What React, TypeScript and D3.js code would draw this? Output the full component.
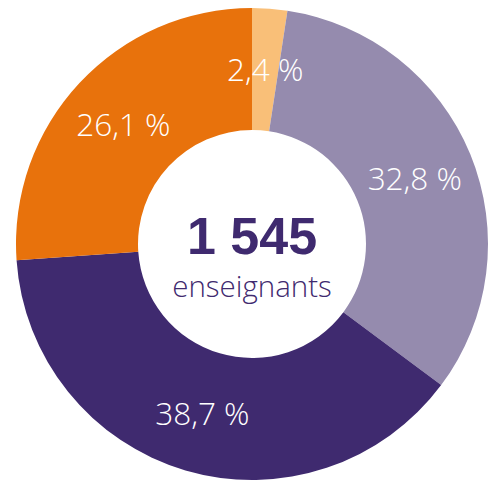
import React from "react";
import * as d3 from "d3";

const categories = ["A", "B", "C", "D"];
const values = [2.4, 32.8, 38.7, 26.1];
const labels = ["2,4 %", "32,8 %", "38,7 %", "26,1 %"];
const colors = ["#F9BF78", "#958BAE", "#3F2A6F", "#E8720C"];
const totalLabel = "1 545";
const subLabel = "enseignants";

export default function App() {
  const W = 494, H = 481;
  const cx = 252, cy = 244;
  const outerR = 236, innerR = 114, labelR = 176;
  const pie = d3.pie<number>().sort(null).value((d) => d);
  const arcs = pie(values);
  const arc = d3.arc<d3.PieArcDatum<number>>().innerRadius(innerR).outerRadius(outerR);
  const labelArc = d3.arc<d3.PieArcDatum<number>>().innerRadius(labelR).outerRadius(labelR);
  return (
    <svg width={W} height={H} style={{ position: "absolute", left: 0, top: 0 }}>
      <g transform={`translate(${cx},${cy})`}>
        {arcs.map((a, i) => (
          <path key={categories[i]} d={arc(a) || ""} fill={colors[i]} />
        ))}
        {arcs.map((a, i) => {
          const [x, y] = labelArc.centroid(a);
          return (
            <text key={"l" + i} x={x} y={y} textAnchor="middle" dominantBaseline="central"
              fill="#fff" fontFamily="'Open Sans', 'Liberation Sans', sans-serif" fontWeight={300} fontSize={31.5}>
              {labels[i]}
            </text>
          );
        })}
        <text x={0} y={10} textAnchor="middle" fill="#3F2A6F"
          fontFamily="'Liberation Sans', Arial, sans-serif" fontWeight={700} fontSize={52}>
          {totalLabel}
        </text>
        <text x={0} y={53} textAnchor="middle" fill="#3F2A6F"
          fontFamily="'Open Sans', 'Liberation Sans', sans-serif" fontWeight={300} fontSize={29.5}>
          {subLabel}
        </text>
      </g>
    </svg>
  );
}
